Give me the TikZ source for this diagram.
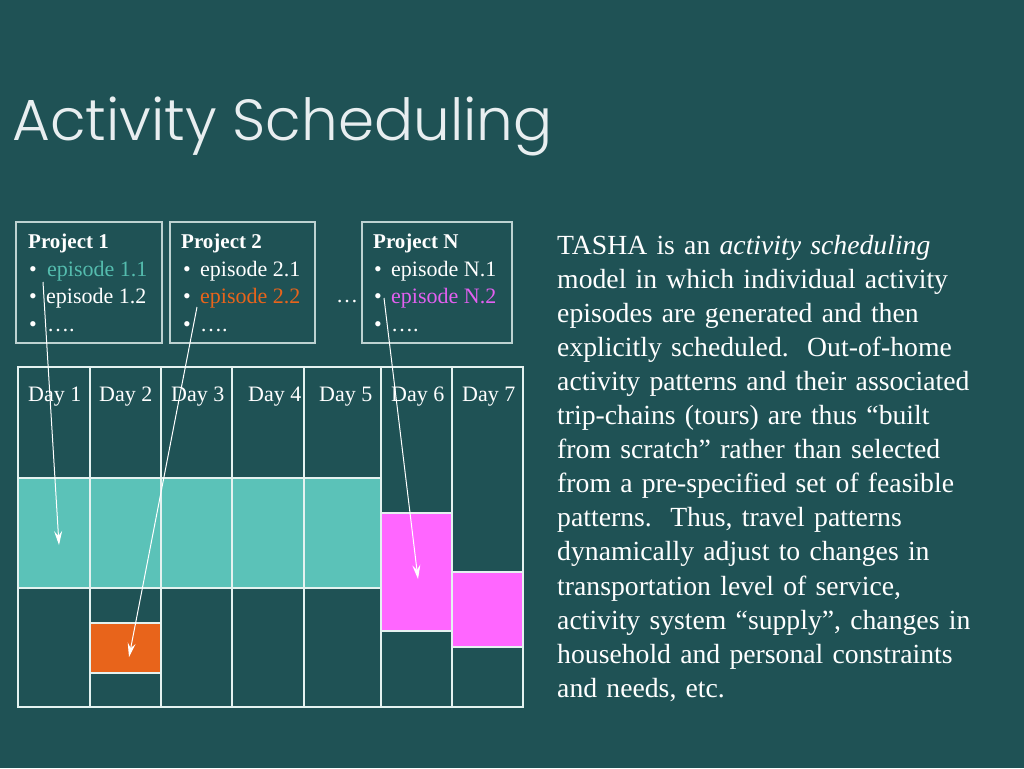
\documentclass[tikz,border=0pt]{standalone}
\usepackage{fontspec}
\setmainfont{Liberation Serif}
\IfFontExistsTF{Poppins Light}
  {\newfontfamily\titlefont{Poppins Light}}
  {\newfontfamily\titlefont{Poppins}}
\usepackage{tikz}
\usetikzlibrary{arrows.meta}

\definecolor{slidebg}{RGB}{31,82,85}
\definecolor{tealfill}{RGB}{91,194,184}
\definecolor{tealtext}{RGB}{84,188,174}
\definecolor{epiorange}{RGB}{232,100,27}
\definecolor{epimagenta}{RGB}{255,102,255}
\definecolor{epimagtext}{RGB}{226,96,240}
\definecolor{lineclr}{RGB}{228,242,240}
\definecolor{titleclr}{RGB}{232,238,240}

\tikzset{
  gridline/.style={draw=lineclr, line width=1.4pt},
  projline/.style={draw=lineclr!80!slidebg, line width=1.2pt},
  lbl/.style={anchor=base west, inner sep=0pt, text=white,
              font=\fontsize{22}{27}\selectfont},
  arr/.style={draw=white, line width=1pt,
              -{Stealth[length=14pt, width=8pt, inset=5pt]}},
}

\begin{document}
\begin{tikzpicture}[x=1pt, y=-1pt]
    \fill[slidebg] (0,0) rectangle (1024,768);
    \useasboundingbox (0,0) rectangle (1024,768);

    % title
    \node[anchor=base west, inner sep=0pt, text=titleclr,
          font=\titlefont\fontsize{58}{58}\selectfont] (title) at (12,140) {Activity Scheduling};

    % project boxes
    \draw[projline] (16,222) rectangle (162,343)
                    (170,222) rectangle (315,343)
                    (362,222) rectangle (512,343);
    \node[lbl, font=\fontsize{21}{27}\selectfont\bfseries] (p1) at (28,248) {Project 1};
    \node[lbl] (p1b1) at (29,276) {•};
    \node[lbl, text=tealtext] (p1e1) at (47,276) {episode 1.1};
    \node[lbl] (p1b2) at (29,303) {•};
    \node[lbl] (p1e2) at (46,303) {episode 1.2};
    \node[lbl] (p1b3) at (29,331) {•};
    \node[lbl] (p1e3) at (47,331) {….};

    \node[lbl, font=\fontsize{21}{27}\selectfont\bfseries] (p2) at (181,248) {Project 2};
    \node[lbl] (p2b1) at (183,276) {•};
    \node[lbl] (p2e1) at (200,276) {episode 2.1};
    \node[lbl] (p2b2) at (183,303) {•};
    \node[lbl, text=epiorange] (p2e2) at (200,303) {episode 2.2};
    \node[lbl] (p2b3) at (183,331) {•};
    \node[lbl] (p2e3) at (200,331) {….};

    \node[lbl] (dots) at (336,302) {…};

    \node[lbl, font=\fontsize{21}{27}\selectfont\bfseries] (pn) at (373,248) {Project N};
    \node[lbl] (pnb1) at (374,276) {•};
    \node[lbl] (pne1) at (391,276) {episode N.1};
    \node[lbl] (pnb2) at (374,303) {•};
    \node[lbl, text=epimagtext] (pne2) at (391,303) {episode N.2};
    \node[lbl] (pnb3) at (374,331) {•};
    \node[lbl] (pne3) at (391,331) {….};

    % scheduled episodes
    \draw[gridline, fill=tealfill] (18,478) rectangle (381,588);
    \draw[gridline, fill=epiorange] (90,623) rectangle (161,673);
    \draw[gridline, fill=epimagenta] (381,513) rectangle (452,631);
    \draw[gridline, fill=epimagenta] (452,572) rectangle (523,647);

    % week grid
    \foreach \xa/\xb in {18/90, 90/161, 161/232, 232/304, 304/381, 381/452, 452/523}
        \draw[gridline] (\xa,367) rectangle (\xb,707);
    \foreach \x/\d in {28/1, 99/2, 171/3, 248/4, 319/5, 391/6, 462/7}
        \node[lbl] (day\d) at (\x,401) {Day \d};

    % episode -> day
    \coordinate (from11) at (43,282);
    \coordinate (to11) at (59,545);
    \coordinate (from22) at (197,307);
    \coordinate (to22) at (129,657);
    \coordinate (fromN2) at (384,298);
    \coordinate (toN2) at (418,579);
    \draw[arr] (from11) -- (to11);
    \draw[arr] (from22) -- (to22);
    \draw[arr] (fromN2) -- (toN2);

    % description
    \node[anchor=base west, inner sep=0pt, text=white, text width=460pt, align=left,
          font=\fontsize{27.7}{34.1}\selectfont] (desc) at (557,254)
        {TASHA is an \textit{activity scheduling}\\
         model in which individual activity\\
         episodes are generated and then\\
         explicitly scheduled.\ \ Out-of-home\\
         activity patterns and their associated\\
         trip-chains (tours) are thus “built\\
         from scratch” rather than selected\\
         from a pre-specified set of feasible\\
         patterns.\ \ Thus, travel patterns\\
         dynamically adjust to changes in\\
         transportation level of service,\\
         activity system “supply”, changes in\\
         household and personal constraints\\
         and needs, etc.};
\end{tikzpicture}
\end{document}
